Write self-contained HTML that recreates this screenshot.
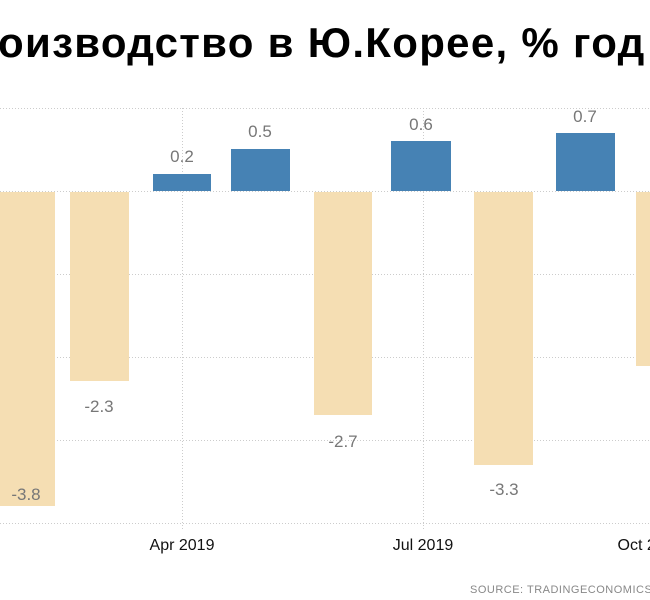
<!DOCTYPE html>
<html><head><meta charset="utf-8"><style>
html,body{margin:0;padding:0;background:#fff;width:650px;height:600px;overflow:hidden}
svg{display:block}
</style></head><body>
<svg width="650" height="600" xmlns="http://www.w3.org/2000/svg">
<text x="-2" y="57" font-family="Liberation Sans, sans-serif" font-weight="bold" font-size="42" letter-spacing="1.3" fill="#000">оизводство в Ю.Корее, % год</text>
<g stroke="#ccc" stroke-dasharray="1,2" stroke-width="1">
<line x1="0" y1="108.5" x2="650" y2="108.5"/>
<line x1="0" y1="191.5" x2="650" y2="191.5"/>
<line x1="0" y1="274.5" x2="650" y2="274.5"/>
<line x1="0" y1="357.5" x2="650" y2="357.5"/>
<line x1="0" y1="440.5" x2="650" y2="440.5"/>
<line x1="0" y1="523.5" x2="650" y2="523.5"/>
<line x1="182.5" y1="108" x2="182.5" y2="530"/>
<line x1="423.5" y1="108" x2="423.5" y2="530"/>
</g>
<g fill="#f5deb3">
<rect x="0" y="192" width="55" height="314"/>
<rect x="70" y="192" width="59" height="189"/>
<rect x="314" y="192" width="58" height="223"/>
<rect x="474" y="192" width="59" height="273"/>
<rect x="636" y="192" width="20" height="174"/>
</g>
<g fill="#4682b4">
<rect x="153" y="174" width="58" height="17"/>
<rect x="231" y="149" width="59" height="42"/>
<rect x="391" y="141" width="60" height="50"/>
<rect x="556" y="133" width="59" height="58"/>
</g>
<g font-family="Liberation Sans Narrow, Liberation Sans, sans-serif" font-size="17" fill="#777" text-anchor="middle">
<text x="26" y="500">-3.8</text>
<text x="99" y="412">-2.3</text>
<text x="182" y="162">0.2</text>
<text x="260" y="137">0.5</text>
<text x="343" y="447">-2.7</text>
<text x="421" y="130">0.6</text>
<text x="504" y="495">-3.3</text>
<text x="585" y="122">0.7</text>
</g>
<g font-family="Liberation Sans Narrow, Liberation Sans, sans-serif" font-size="16" fill="#111" text-anchor="middle">
<text x="182" y="550">Apr 2019</text>
<text x="423" y="550">Jul 2019</text>
<text x="650" y="550">Oct 2019</text>
</g>
<text x="470" y="593" font-family="Liberation Sans Narrow, Liberation Sans, sans-serif" font-size="11" fill="#888" letter-spacing="0.5">SOURCE:  TRADINGECONOMICS.COM</text>
</svg>
</body></html>
